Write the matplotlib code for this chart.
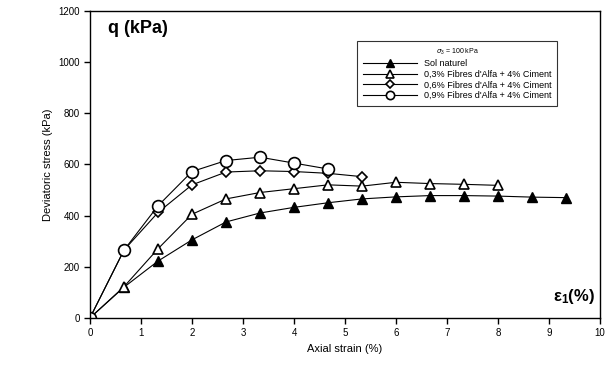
import matplotlib
matplotlib.use("Agg")
import matplotlib.pyplot as plt

plt.rcParams["font.family"] = ["Liberation Sans", "DejaVu Sans"]
plt.rcParams["mathtext.fontset"] = "custom"
plt.rcParams["mathtext.rm"] = "Liberation Sans"
plt.rcParams["mathtext.bf"] = "Liberation Sans:bold"

# Données
x_sol = [0, 0.667, 1.333, 2, 2.667, 3.333, 4, 4.667, 5.333, 6, 6.667, 7.333, 8, 8.667, 9.333]
q_sol = [0, 120, 222, 305, 375, 410, 432, 450, 465, 473, 478, 478, 476, 472, 470]

x_03 = [0, 0.667, 1.333, 2, 2.667, 3.333, 4, 4.667, 5.333, 6, 6.667, 7.333, 8]
q_03 = [0, 122, 270, 405, 465, 490, 505, 520, 515, 530, 525, 522, 518]

x_06 = [0, 0.667, 1.333, 2, 2.667, 3.333, 4, 4.667, 5.333]
q_06 = [0, 265, 412, 520, 570, 575, 572, 565, 552]

x_09 = [0, 0.667, 1.333, 2, 2.667, 3.333, 4, 4.667]
q_09 = [0, 265, 438, 572, 615, 628, 605, 582]

labels = [
    "Sol naturel",
    "0,3% Fibres d'Alfa + 4% Ciment",
    "0,6% Fibres d'Alfa + 4% Ciment",
    "0,9% Fibres d'Alfa + 4% Ciment",
]

fig = plt.figure(figsize=(6.08, 3.74), dpi=100)
ax = fig.add_axes([0.148, 0.150, 0.839, 0.821])

ax.plot(x_sol, q_sol, color="black", lw=0.8, marker="^", ms=7.5,
        mfc="black", mec="black", label=labels[0])
ax.plot(x_03, q_03, color="black", lw=0.8, marker="^", ms=7.5,
        mfc="white", mec="black", mew=1.2, label=labels[1])
ax.plot(x_06, q_06, color="black", lw=0.8, marker="D", ms=5.5,
        mfc="white", mec="black", mew=1.2, label=labels[2])
ax.plot(x_09, q_09, color="black", lw=0.8, marker="o", ms=8.5,
        mfc="white", mec="black", mew=1.2, label=labels[3])

ax.set_xlim(0, 10)
ax.set_ylim(0, 1200)
ax.set_xticks(range(0, 11))
ax.set_yticks(range(0, 1201, 200))
ax.tick_params(direction="out", labelsize=7, length=4, width=1)
for s in ax.spines.values():
    s.set_linewidth(1)

ax.set_xlabel("Axial strain (%)", fontsize=8)
ax.set_ylabel("Deviatoric stress (kPa)", fontsize=8)

ax.text(0.35, 1130, "q (kPa)", fontsize=13, fontweight="bold", va="center")
ax.text(9.9, 85, "ε$\\mathbf{_1}$(%)", fontsize=12, fontweight="bold",
        ha="right", va="center")

leg = ax.legend(loc="upper right", bbox_to_anchor=(0.925, 0.915),
                fontsize=6.5, frameon=True, fancybox=False, edgecolor="black",
                handlelength=6, borderpad=0.6, labelspacing=0.2, markerscale=0.7,
                title=r"$\sigma_3$ = 100 kPa", title_fontsize=5)
leg.get_frame().set_linewidth(0.8)

fig.savefig("out.png", dpi=100)
